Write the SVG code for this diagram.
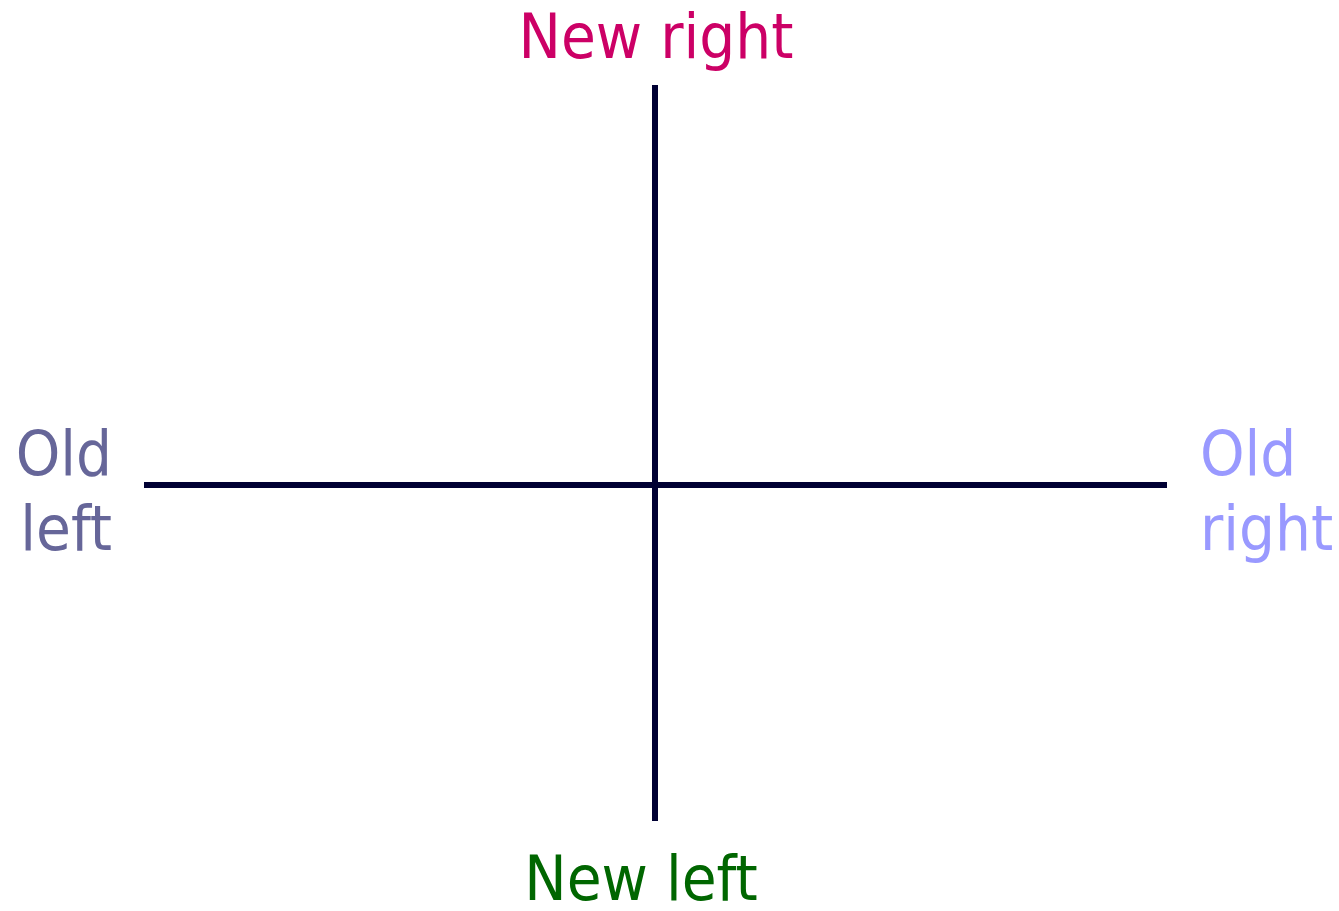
<svg xmlns="http://www.w3.org/2000/svg" width="1339" height="911" viewBox="0 0 1339 911">
<style>
text{font-family:"DejaVu Sans Condensed","DejaVu Sans",sans-serif;font-size:63px}
.axis{stroke:#000033;stroke-width:6;fill:none}
</style>
<rect width="1339" height="911" fill="#fff"/>
<g id="connectors">
<line class="axis" x1="144" y1="485" x2="1167" y2="485"/>
<line class="axis" x1="655" y1="85" x2="655" y2="821"/>
</g>
<g id="new-right"><text x="656" y="58" text-anchor="middle" fill="#CC0066">New right</text></g>
<g id="new-left"><text x="641" y="900" text-anchor="middle" fill="#006600">New left</text></g>
<g id="old-left" fill="#666699" text-anchor="end"><text x="112" y="475">Old</text><text x="112" y="550">left</text></g>
<g id="old-right" fill="#9999FF"><text x="1200" y="475">Old</text><text x="1200" y="550">right</text></g>
</svg>
